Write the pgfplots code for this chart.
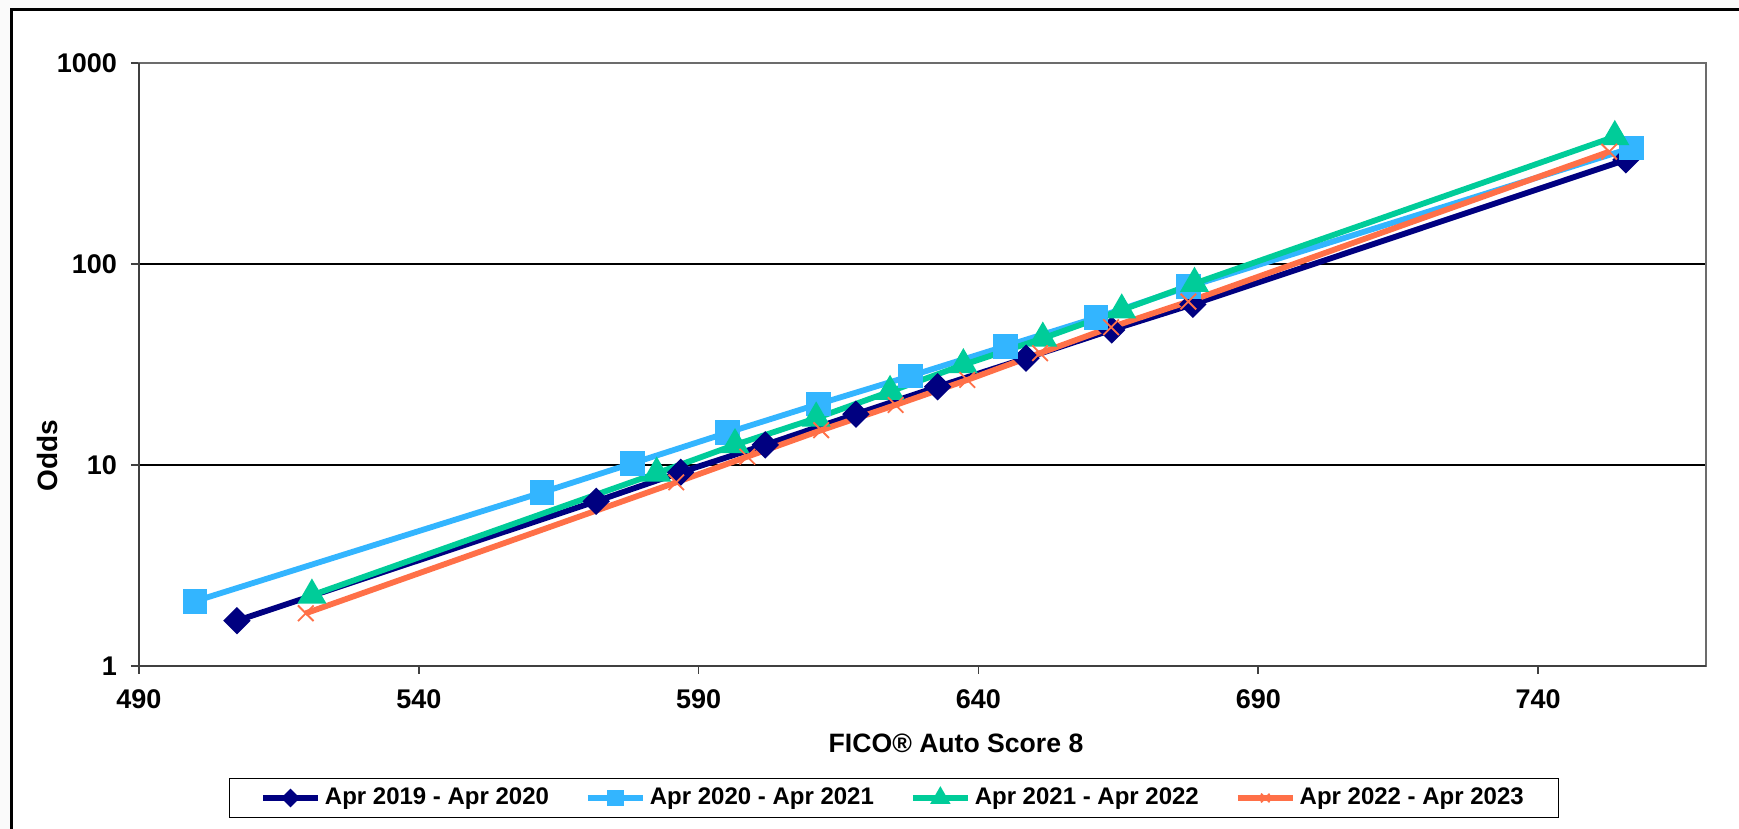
\documentclass[border=0pt]{standalone}
\usepackage{pgfplots}
\pgfplotsset{compat=1.18}
\usepackage{fontspec}
\setmainfont{Liberation Sans}

\definecolor{navyline}{RGB}{0,0,128}
\definecolor{skyline}{RGB}{51,181,255}
\definecolor{greenline}{RGB}{0,204,153}
\definecolor{orangeline}{RGB}{255,112,72}

\begin{document}
\begin{tikzpicture}
% page size and the outer chart frame
\useasboundingbox (-69.5pt,-81.5pt) rectangle (800pt,333pt);
\fill[gray!4] (-69.5pt,-81.5pt) rectangle (800pt,333pt);
\fill[white] (-63.5pt,-90pt) rectangle (810pt,328pt);
\draw[line width=1.5pt] (-63.5pt,-90pt) -- (-63.5pt,328pt) -- (810pt,328pt);

\begin{axis}[
  scale only axis, width=783.5pt, height=301.5pt,
  at={(0pt,0pt)}, anchor=south west,
  xmin=490, xmax=770, ymin=1, ymax=1000, ymode=log,
  xtick={490,540,590,640,690,740},
  xticklabels={490,540,590,640,690,740},
  ytick={1,10,100,1000},
  yticklabels={1,10,100,1000},
  yminorticks=false,
  ymajorgrids, grid style={black, line width=0.6pt},
  axis line style={draw=gray!85!black, line width=1pt},
  tick align=outside, xtick pos=left, ytick pos=left,
  major tick length=4pt,
  tick style={black!75, line width=0.8pt},
  /pgf/number format/assume math mode=true,
  ticklabel style={font=\fontsize{13.5}{16}\selectfont\bfseries},
  yticklabel style={xshift=-3.5pt},
  xticklabel style={yshift=-4.5pt},
  xlabel={FICO® Auto Score 8},
  xlabel style={at={(axis description cs:0.5214,-0.1285)}, anchor=center,
    font=\fontsize{13.3}{16}\selectfont\bfseries},
  ylabel={Odds},
  ylabel style={at={(axis description cs:-0.0587,0.3483)}, anchor=center,
    font=\fontsize{14}{17}\selectfont\bfseries},
  legend columns=4,
  legend style={at={(axis description cs:0.4818,-0.2189)}, anchor=center,
    draw=black, line width=0.6pt, inner xsep=15.5pt, inner ysep=3pt,
    font=\fontsize{12}{14}\selectfont\bfseries,
    /tikz/every even column/.append style={column sep=16pt}},
  legend image code/.code={
    \draw[mark repeat=2, mark phase=2, #1, every mark/.append style={scale=0.55}]
      plot coordinates {(0pt,0pt) (13.75pt,0pt) (27.5pt,0pt)};},
  every axis plot/.append style={line width=2.9pt},
  after end axis/.code={
    \draw[black!75, line width=1pt] (rel axis cs:0,1) -- (rel axis cs:0,0) -- (rel axis cs:1,0);
  },
]

\addplot[navyline, mark=square*, mark size=3.4pt, mark options={rotate=45, solid}]
  coordinates {(507.5,1.68) (571.7,6.6) (586.8,9.2) (601.9,12.6) (618.1,17.9)
               (632.7,24.5) (648.5,34) (663.8,47) (678.3,63) (755.7,330)};
\addlegendentry{Apr 2019 - Apr 2020}

\addplot[skyline, mark=square*, mark size=4.75pt, mark options={solid}]
  coordinates {(500,2.1) (562,7.3) (578.2,10.2) (595.2,14.5) (611.4,20.1)
               (627.8,27.7) (644.8,39) (661,54) (677.5,77) (756.7,378)};
\addlegendentry{Apr 2020 - Apr 2021}

\addplot[greenline, mark=triangle*, mark size=5.5pt, mark options={solid}]
  coordinates {(520.9,2.25) (582.5,9.1) (596.5,12.6) (611,17.1) (624.2,23.2)
               (637.3,31.5) (651.5,42.7) (665.6,59) (678.6,80) (753.7,430)};
\addlegendentry{Apr 2021 - Apr 2022}

\addplot[orangeline, mark=x, mark size=5.5pt, mark options={solid, line width=0.9pt}]
  coordinates {(519.8,1.83) (586,8.2) (598.7,11.0) (611.9,14.9) (625.2,19.9)
               (638,26.5) (651,36) (663.7,48.5) (677.5,65) (752.7,362)};
\addlegendentry{Apr 2022 - Apr 2023}

\end{axis}
\end{tikzpicture}
\end{document}
